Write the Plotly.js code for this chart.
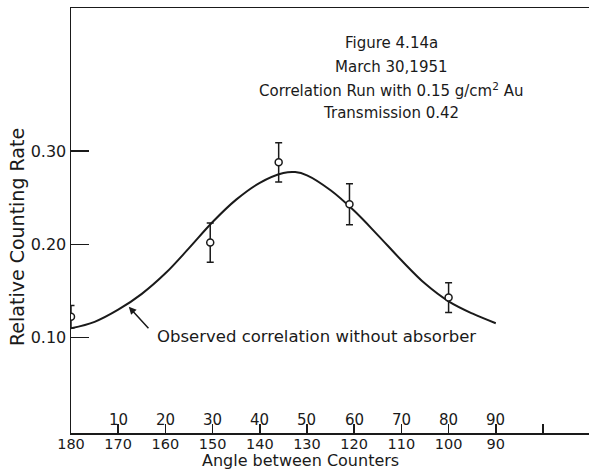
<!DOCTYPE html>
<html>
<head>
<meta charset="utf-8">
<script src="https://cdn.plot.ly/plotly-3.0.1.min.js"></script>
<style>
  html, body { margin: 0; padding: 0; background: #fff; }
  #chart { width: 589px; height: 471px; }
</style>
</head>
<body>
<div id="chart"></div>
<script>
// Measured data points (angle between counters, relative counting rate, error)
const pointAngles = [180, 150.5, 136, 121, 100];
const pointRates  = [0.1225, 0.202, 0.288, 0.243, 0.143];
const pointErrors = [0.012, 0.021, 0.021, 0.022, 0.016];

// Smooth fitted curve
const curveAngles = [180, 175, 170, 165, 160, 155, 150, 145, 140, 135, 132.5, 130, 125, 120, 115, 110, 105, 100, 95, 90];
const curveRates  = [0.110, 0.117, 0.130, 0.147, 0.169, 0.196, 0.224, 0.248, 0.266, 0.2765, 0.2775, 0.274, 0.258, 0.236, 0.210, 0.183, 0.158, 0.139, 0.126, 0.1155];

// Axis ticks
const xTickVals = [180, 170, 160, 150, 140, 130, 120, 110, 100, 90];
const xTickText = ['180', '170', '160', '150', '140', '130', '120', '110', '100', '90'];
const xExtraTick = [80];
const topTickVals = [170, 160, 150, 140, 130, 120, 110, 100, 90];
const topTickText = ['10', '20', '30', '40', '50', '60', '70', '80', '90'];
const yTickVals = [0.10, 0.20, 0.30];
const yTickText = ['0.10', '0.20', '0.30'];

// Caption lines
const titleLines = ['Figure 4.14a', 'March 30,1951', 'Correlation Run with 0.15 g/cm<sup>2</sup> Au', 'Transmission 0.42'];
const titleLineY = [0.9176, 0.8612, 0.8071, 0.7529];

const FONT = 'DejaVu Sans, sans-serif';
const INK = '#1a1a1a';

const traces = [
  {
    x: curveAngles, y: curveRates, type: 'scatter', mode: 'lines',
    line: { color: INK, width: 2, shape: 'spline', smoothing: 1 },
    hoverinfo: 'skip', showlegend: false
  },
  {
    x: pointAngles, y: pointRates, type: 'scatter', mode: 'markers',
    marker: { symbol: 'circle', size: 7, color: '#ffffff', line: { color: INK, width: 1.5 } },
    error_y: { type: 'data', array: pointErrors, visible: true, color: INK, thickness: 1.5, width: 3.5 },
    showlegend: false
  }
];

const annotations = [];
titleLines.forEach((t, i) => {
  annotations.push({
    text: t, xref: 'paper', yref: 'paper', x: 0.618, y: titleLineY[i],
    xanchor: 'center', yanchor: 'middle', showarrow: false,
    font: { family: FONT, size: 15, color: INK }
  });
});
topTickVals.forEach((v, i) => {
  annotations.push({
    text: topTickText[i], xref: 'x', yref: 'paper', x: v, y: 0.0306,
    xanchor: 'center', yanchor: 'middle', showarrow: false,
    font: { family: FONT, size: 15, color: INK }
  });
});
// Curve label with arrow
annotations.push({
  text: 'Observed correlation without absorber', xref: 'x', yref: 'y',
  x: 162.2, y: 0.101, xanchor: 'left', yanchor: 'middle', showarrow: false,
  font: { family: FONT, size: 16.5, color: INK }
});
annotations.push({
  text: '', xref: 'x', yref: 'y', x: 167.75, y: 0.1332,
  showarrow: true, arrowhead: 2, arrowsize: 1, arrowwidth: 1.5, arrowcolor: INK,
  ax: 21, ay: 23
});
// Axis titles
annotations.push({
  text: 'Angle between Counters', xref: 'paper', yref: 'paper',
  x: (300 - 71) / 518, y: 1 - (460 - 8) / 425, xanchor: 'center', yanchor: 'middle',
  showarrow: false, font: { family: FONT, size: 16, color: INK }
});
annotations.push({
  text: 'Relative Counting Rate', xref: 'paper', yref: 'paper',
  x: (17 - 71) / 518, y: 1 - (237 - 8) / 425, xanchor: 'center', yanchor: 'middle',
  textangle: -90, showarrow: false, font: { family: FONT, size: 19, color: INK }
});

const layout = {
  width: 589, height: 471,
  margin: { l: 71, r: 0, t: 8, b: 38, pad: 0 },
  paper_bgcolor: '#ffffff', plot_bgcolor: '#ffffff',
  showlegend: false,
  xaxis: {
    range: [180, 70.25], showgrid: false, zeroline: false,
    showline: true, linecolor: INK, linewidth: 1.5, mirror: true,
    ticks: 'inside', ticklen: 9, tickwidth: 1.5, tickcolor: INK,
    tickmode: 'array', tickvals: xTickVals, ticktext: xTickText,
    ticklabelstandoff: -3,
    minor: { tickmode: 'array', tickvals: xExtraTick, ticks: 'inside', ticklen: 9, tickwidth: 1.5, tickcolor: INK, showgrid: false },
    tickfont: { family: FONT, size: 14.5, color: INK }
  },
  yaxis: {
    range: [-0.00214, 0.45338], showgrid: false, zeroline: false,
    showline: true, linecolor: INK, linewidth: 1.5,
    ticks: 'inside', ticklen: 18, tickwidth: 1.5, tickcolor: INK,
    tickmode: 'array', tickvals: yTickVals, ticktext: yTickText,
    tickfont: { family: FONT, size: 16, color: INK }
  },
  annotations: annotations
};

Plotly.newPlot('chart', traces, layout, { staticPlot: true, displayModeBar: false });
</script>
</body>
</html>
